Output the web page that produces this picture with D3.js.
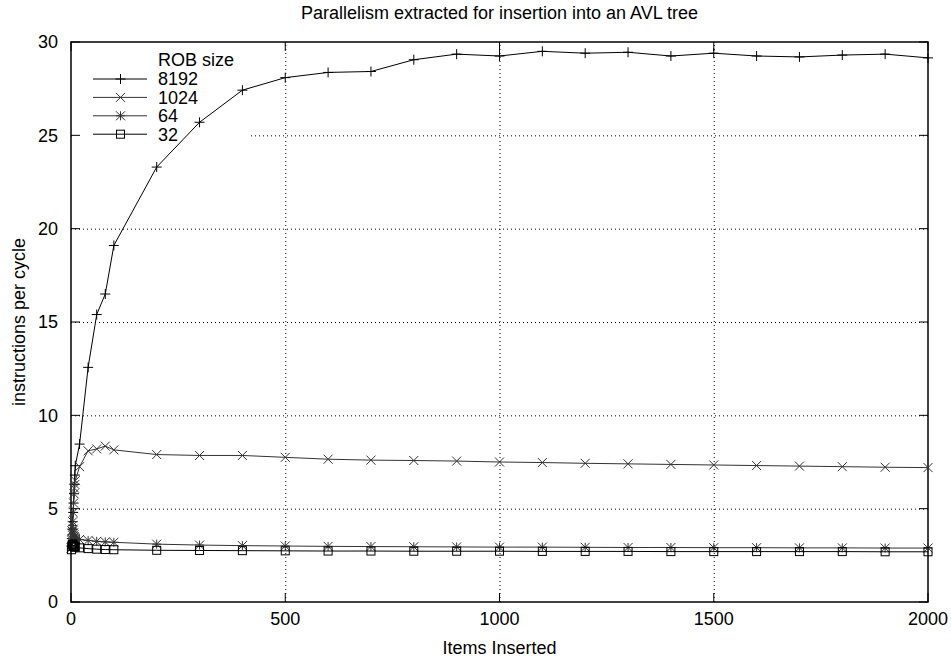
<!DOCTYPE html>
<html>
<head>
<meta charset="utf-8">
<script src="https://cdn.jsdelivr.net/npm/d3@7"></script>
<style>
  body { margin: 0; background: #fff; }
  text { font-family: "Liberation Sans", Arial, Helvetica, sans-serif; fill: #000; }
</style>
</head>
<body>
<svg id="chart" width="951" height="661"></svg>
<script>
// items inserted (x values)
const items = [1, 2, 3, 4, 5, 6, 7, 8, 9, 10, 20, 40, 60, 80, 100,
  200, 300, 400, 500, 600, 700, 800, 900, 1000, 1100, 1200, 1300, 1400,
  1500, 1600, 1700, 1800, 1900, 2000];

// instructions per cycle for each ROB size
const rob8192 = [3.0, 3.4, 3.9, 4.3, 4.8, 5.3, 5.8, 6.3, 6.8, 7.3,
  8.46, 12.57, 15.4, 16.5, 19.1,
  23.3, 25.7, 27.42, 28.09, 28.37, 28.42, 29.05, 29.35, 29.25, 29.5, 29.4,
  29.45, 29.25, 29.4, 29.25, 29.2, 29.3, 29.35, 29.15];
const rob1024 = [2.9, 3.3, 3.8, 4.3, 4.8, 5.3, 5.8, 6.1, 6.3, 6.5,
  7.25, 8.1, 8.2, 8.35, 8.15,
  7.9, 7.85, 7.85, 7.75, 7.65, 7.6, 7.58, 7.55, 7.5, 7.47, 7.43,
  7.4, 7.37, 7.34, 7.31, 7.28, 7.25, 7.22, 7.2];
const rob64 = [2.9, 3.4, 3.8, 4.1, 3.9, 3.7, 3.6, 3.5, 3.45, 3.4,
  3.35, 3.3, 3.25, 3.22, 3.2,
  3.1, 3.05, 3.02, 3.0, 2.98, 2.97, 2.96, 2.95, 2.94, 2.94, 2.93,
  2.92, 2.92, 2.91, 2.91, 2.9, 2.9, 2.89, 2.89];
const rob32 = [2.8, 3.0, 3.1, 3.1, 3.05, 3.0, 2.98, 2.96, 2.95, 2.94,
  2.9, 2.86, 2.83, 2.81, 2.8,
  2.77, 2.76, 2.75, 2.74, 2.73, 2.73, 2.72, 2.72, 2.72, 2.71, 2.71,
  2.71, 2.7, 2.7, 2.7, 2.7, 2.7, 2.69, 2.69];

const xTicks = [0, 500, 1000, 1500, 2000];
const yTicks = [0, 5, 10, 15, 20, 25, 30];

const series = [
  { name: "8192", values: rob8192, marker: "plus", color: "#000" },
  { name: "1024", values: rob1024, marker: "cross", color: "#333" },
  { name: "64", values: rob64, marker: "star", color: "#333" },
  { name: "32", values: rob32, marker: "square", color: "#000" },
];

const margin = { top: 42, right: 23, bottom: 59, left: 71 };
const width = 951;
const height = 661;
const fontSize = 18;

const x = d3.scaleLinear().domain([0, 2000]).range([margin.left, width - margin.right]);
const y = d3.scaleLinear().domain([0, 30]).range([height - margin.bottom, margin.top]);

const svg = d3.select("#chart");

// title
svg.append("text")
  .attr("x", (x(0) + x(2000)) / 2)
  .attr("y", 19)
  .attr("text-anchor", "middle")
  .attr("font-size", fontSize)
  .text("Parallelism extracted for insertion into an AVL tree");

// dotted grid
const grid = svg.append("g")
  .attr("stroke", "#000")
  .attr("stroke-width", 1)
  .attr("stroke-dasharray", "1,3");
grid.selectAll("line.h")
  .data(yTicks.slice(1, -1))
  .join("line")
  .attr("x1", x(0)).attr("x2", x(2000))
  .attr("y1", d => y(d) + 0.5).attr("y2", d => y(d) + 0.5);
grid.selectAll("line.v")
  .data(xTicks.slice(1, -1))
  .join("line")
  .attr("class", "v")
  .attr("y1", y(0)).attr("y2", y(30))
  .attr("x1", d => x(d) + 0.5).attr("x2", d => x(d) + 0.5);

// legend background hides the grid behind the key
svg.append("rect")
  .attr("x", x(0) + 1)
  .attr("y", y(30) + 1)
  .attr("width", 176)
  .attr("height", 103)
  .attr("fill", "#fff");

// axes with inward ticks on all sides
const tickLen = 9;
const axisG = svg.append("g").attr("stroke", "#000").attr("stroke-width", 1);
yTicks.forEach(t => {
  axisG.append("line").attr("x1", x(0)).attr("x2", x(0) + tickLen).attr("y1", y(t)).attr("y2", y(t));
  axisG.append("line").attr("x1", x(2000)).attr("x2", x(2000) - tickLen).attr("y1", y(t)).attr("y2", y(t));
});
xTicks.forEach(t => {
  axisG.append("line").attr("y1", y(0)).attr("y2", y(0) - tickLen).attr("x1", x(t)).attr("x2", x(t));
  axisG.append("line").attr("y1", y(30)).attr("y2", y(30) + tickLen).attr("x1", x(t)).attr("x2", x(t));
});
svg.append("rect")
  .attr("x", x(0)).attr("y", y(30))
  .attr("width", x(2000) - x(0)).attr("height", y(0) - y(30))
  .attr("fill", "none").attr("stroke", "#000").attr("stroke-width", 1.5);

// tick labels
svg.append("g").selectAll("text")
  .data(yTicks)
  .join("text")
  .attr("x", x(0) - 13)
  .attr("y", d => y(d))
  .attr("dy", "0.35em")
  .attr("text-anchor", "end")
  .attr("font-size", fontSize)
  .text(d => d);
svg.append("g").selectAll("text")
  .data(xTicks)
  .join("text")
  .attr("x", d => x(d))
  .attr("y", y(0) + 23)
  .attr("text-anchor", "middle")
  .attr("font-size", fontSize)
  .text(d => d);

// axis titles
svg.append("text")
  .attr("x", (x(0) + x(2000)) / 2)
  .attr("y", 654)
  .attr("text-anchor", "middle")
  .attr("font-size", fontSize)
  .text("Items Inserted");
svg.append("text")
  .attr("transform", `translate(25,${(y(0) + y(30)) / 2}) rotate(-90)`)
  .attr("text-anchor", "middle")
  .attr("font-size", fontSize)
  .text("instructions per cycle");

// marker drawing
function drawMarker(g, type, cx, cy, color) {
  const s = type === "plus" ? 5 : 4.5;
  if (type === "plus" || type === "star") {
    g.append("path").attr("d", `M${cx - s},${cy}H${cx + s}M${cx},${cy - s}V${cy + s}`)
      .attr("stroke", color).attr("fill", "none");
  }
  if (type === "cross" || type === "star") {
    g.append("path").attr("d", `M${cx - s},${cy - s}L${cx + s},${cy + s}M${cx - s},${cy + s}L${cx + s},${cy - s}`)
      .attr("stroke", color).attr("fill", "none");
  }
  if (type === "square") {
    g.append("rect").attr("x", cx - 4).attr("y", cy - 4).attr("width", 8).attr("height", 8)
      .attr("stroke", color).attr("fill", "none");
  }
}

const line = d3.line()
  .x((d, i) => x(items[i]))
  .y(d => y(d));

series.forEach(s => {
  const g = svg.append("g");
  g.append("path")
    .attr("d", line(s.values))
    .attr("fill", "none")
    .attr("stroke", s.color)
    .attr("stroke-width", 1);
  s.values.forEach((v, i) => drawMarker(g, s.marker, x(items[i]), y(v), s.color));
});

// legend
const legend = svg.append("g");
legend.append("text")
  .attr("x", 158).attr("y", 60).attr("dy", "0.35em")
  .attr("font-size", fontSize)
  .text("ROB size");
series.forEach((s, i) => {
  const ly = 79 + i * 18.4;
  legend.append("line")
    .attr("x1", 93).attr("x2", 147).attr("y1", ly).attr("y2", ly)
    .attr("stroke", s.color);
  drawMarker(legend, s.marker, 120.5, ly, s.color);
  legend.append("text")
    .attr("x", 158).attr("y", ly).attr("dy", "0.35em")
    .attr("font-size", fontSize)
    .text(s.name);
});
</script>
</body>
</html>
